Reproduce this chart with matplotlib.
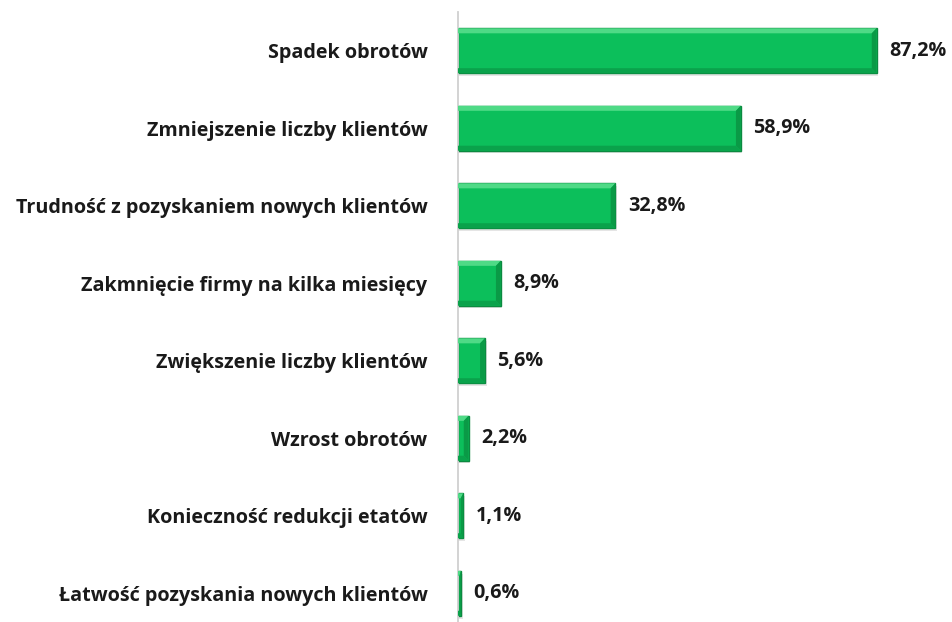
import matplotlib
matplotlib.use("Agg")
import matplotlib.pyplot as plt
from matplotlib.patches import Polygon

categories = [
    "Spadek obrotów",
    "Zmniejszenie liczby klientów",
    "Trudność z pozyskaniem nowych klientów",
    "Zakmnięcie firmy na kilka miesięcy",
    "Zwiększenie liczby klientów",
    "Wzrost obrotów",
    "Konieczność redukcji etatów",
    "Łatwość pozyskania nowych klientów",
]
values = [87.2, 58.9, 32.8, 8.9, 5.6, 2.2, 1.1, 0.6]
value_labels = ["87,2%", "58,9%", "32,8%", "8,9%", "5,6%", "2,2%", "1,1%", "0,6%"]

plt.rcParams['font.family'] = ['Open Sans', 'DejaVu Sans']

W, H = 953, 622
fig = plt.figure(figsize=(W / 100, H / 100), dpi=100)
ax_left = 458 / W
ax_right = 938 / W
ax = fig.add_axes([ax_left, 0.0, ax_right - ax_left, 1 - 12 / H])

bar_h = 0.58
face = "#0CBF5B"
edge = "#0B8A40"
ys = list(range(len(values)))

# soft shadow
ax.barh([y + 0.035 for y in ys], [v + 0.35 for v in values], height=bar_h,
        left=0, color="#000000", alpha=0.10, linewidth=0, zorder=1)
ax.barh(ys, values, height=bar_h, color=face, edgecolor=edge,
        linewidth=1.0, zorder=2)

# bevel highlights / shades
bx = 1.0   # data units in x
by = 0.065  # data units in y
for y, v, lab in zip(ys, values, value_labels):
    top, bot = y - bar_h / 2, y + bar_h / 2
    b = min(bx, v / 2)
    ax.add_patch(Polygon([(0, top), (v, top), (v - b, top + by), (0, top + by)],
                         closed=True, color="#4FDA86", lw=0, zorder=3))
    ax.add_patch(Polygon([(0, bot), (v, bot), (v - b, bot - by), (0, bot - by)],
                         closed=True, color="#0AA24B", lw=0, zorder=3))
    ax.add_patch(Polygon([(v, top), (v, bot), (v - b, bot - by), (v - b, top + by)],
                         closed=True, color="#0A9A46", lw=0, zorder=3))
    ax.text(v + 2.6, y, lab, va="center", ha="left", fontsize=14.2,
            fontweight="bold", color="#1a1a1a")

ax.set_xlim(0, 100)
ax.set_ylim(7.37, -0.5)
ax.set_yticks(ys)
ax.set_yticklabels(categories, fontsize=14.2, fontweight="bold", color="#1a1a1a")
ax.tick_params(axis="y", length=0, pad=22)
ax.set_xticks([])
for s in ["top", "right", "bottom"]:
    ax.spines[s].set_visible(False)
ax.spines["left"].set_color("#D0D0D0")
ax.spines["left"].set_linewidth(1.3)

fig.savefig("out.png", dpi=100, facecolor="white")
